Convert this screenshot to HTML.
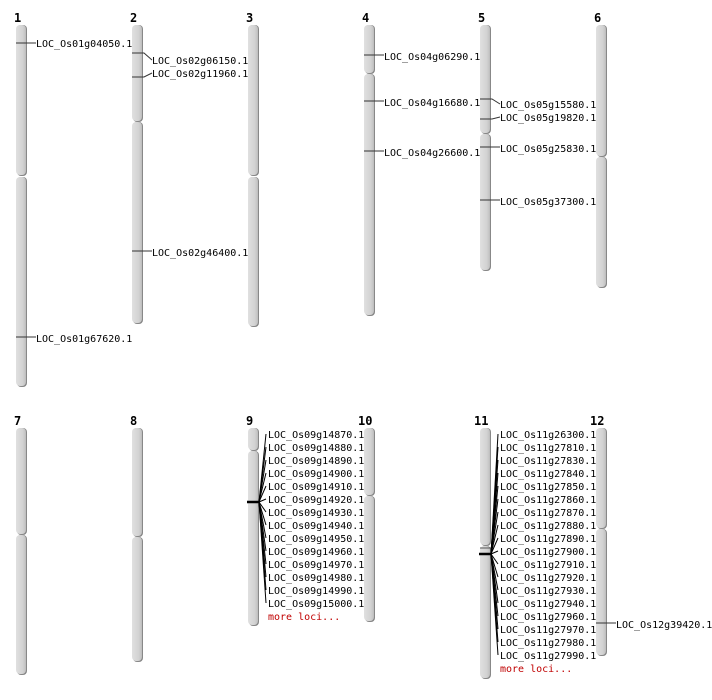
<!DOCTYPE html>
<html><head><meta charset="utf-8"><style>
html,body{margin:0;padding:0;background:#fff}
svg{display:block}
text{font-family:"DejaVu Sans Mono","Liberation Mono",monospace;font-size:10px;fill:#000}
.n{font-weight:bold;font-size:12px}
.m{fill:#c00000}
.c{fill:#d6d6d6}
.s{fill:#888}
.t{stroke:#333;stroke-width:1;fill:none}
.k{stroke:#000;stroke-width:1;fill:none}
</style></head><body>
<svg width="712" height="700" viewBox="0 0 712 700">
<defs>
<linearGradient id="g" x1="0" x2="1" y1="0" y2="0">
<stop offset="0" stop-color="#e0e0e0"/><stop offset="0.7" stop-color="#d2d2d2"/><stop offset="1" stop-color="#bdbdbd"/>
</linearGradient>
</defs>
<g fill="url(#g)" stroke="#999" stroke-width="0.5">
<!-- shadows drawn as dark rect slightly offset -->
</g>
<g id="chrs">
<!-- chr1 -->
<rect x="17" y="25" width="10" height="151" rx="4" class="s"/><rect x="16" y="25" width="10" height="150" rx="4" fill="url(#g)"/>
<rect x="17" y="177" width="10" height="210" rx="4" class="s"/><rect x="16" y="177" width="10" height="209" rx="4" fill="url(#g)"/>
<!-- chr2 -->
<rect x="133" y="25" width="10" height="97" rx="4" class="s"/><rect x="132" y="25" width="10" height="96" rx="4" fill="url(#g)"/>
<rect x="133" y="122" width="10" height="202" rx="4" class="s"/><rect x="132" y="122" width="10" height="201" rx="4" fill="url(#g)"/>
<!-- chr3 -->
<rect x="249" y="25" width="10" height="151" rx="4" class="s"/><rect x="248" y="25" width="10" height="150" rx="4" fill="url(#g)"/>
<rect x="249" y="177" width="10" height="150" rx="4" class="s"/><rect x="248" y="177" width="10" height="149" rx="4" fill="url(#g)"/>
<!-- chr4 -->
<rect x="365" y="25" width="10" height="49" rx="4" class="s"/><rect x="364" y="25" width="10" height="48" rx="4" fill="url(#g)"/>
<rect x="365" y="74" width="10" height="242" rx="4" class="s"/><rect x="364" y="74" width="10" height="241" rx="4" fill="url(#g)"/>
<!-- chr5 -->
<rect x="481" y="25" width="10" height="109" rx="4" class="s"/><rect x="480" y="25" width="10" height="108" rx="4" fill="url(#g)"/>
<rect x="481" y="134" width="10" height="137" rx="4" class="s"/><rect x="480" y="134" width="10" height="136" rx="4" fill="url(#g)"/>
<!-- chr6 -->
<rect x="597" y="25" width="10" height="132" rx="4" class="s"/><rect x="596" y="25" width="10" height="131" rx="4" fill="url(#g)"/>
<rect x="597" y="157" width="10" height="131" rx="4" class="s"/><rect x="596" y="157" width="10" height="130" rx="4" fill="url(#g)"/>
<!-- chr7 -->
<rect x="17" y="428" width="10" height="107" rx="4" class="s"/><rect x="16" y="428" width="10" height="106" rx="4" fill="url(#g)"/>
<rect x="17" y="535" width="10" height="140" rx="4" class="s"/><rect x="16" y="535" width="10" height="139" rx="4" fill="url(#g)"/>
<!-- chr8 -->
<rect x="133" y="428" width="10" height="109" rx="4" class="s"/><rect x="132" y="428" width="10" height="108" rx="4" fill="url(#g)"/>
<rect x="133" y="537" width="10" height="125" rx="4" class="s"/><rect x="132" y="537" width="10" height="124" rx="4" fill="url(#g)"/>
<!-- chr9 -->
<rect x="249" y="428" width="10" height="23" rx="4" class="s"/><rect x="248" y="428" width="10" height="22" rx="4" fill="url(#g)"/>
<rect x="249" y="451" width="10" height="175" rx="4" class="s"/><rect x="248" y="451" width="10" height="174" rx="4" fill="url(#g)"/>
<!-- chr10 -->
<rect x="365" y="428" width="10" height="68" rx="4" class="s"/><rect x="364" y="428" width="10" height="67" rx="4" fill="url(#g)"/>
<rect x="365" y="496" width="10" height="126" rx="4" class="s"/><rect x="364" y="496" width="10" height="125" rx="4" fill="url(#g)"/>
<!-- chr11 -->
<rect x="481" y="428" width="10" height="118" rx="4" class="s"/><rect x="480" y="428" width="10" height="117" rx="4" fill="url(#g)"/>
<rect x="481" y="546" width="10" height="133" rx="4" class="s"/><rect x="480" y="546" width="10" height="132" rx="4" fill="url(#g)"/>
<!-- chr12 -->
<rect x="597" y="428" width="10" height="101" rx="4" class="s"/><rect x="596" y="428" width="10" height="100" rx="4" fill="url(#g)"/>
<rect x="597" y="529" width="10" height="127" rx="4" class="s"/><rect x="596" y="529" width="10" height="126" rx="4" fill="url(#g)"/>
</g>

<g>
<text class="n" x="14" y="22">1</text><text class="n" x="130" y="22">2</text><text class="n" x="246" y="22">3</text>
<text class="n" x="362" y="22">4</text><text class="n" x="478" y="22">5</text><text class="n" x="594" y="22">6</text>
<text class="n" x="14" y="425">7</text><text class="n" x="130" y="425">8</text><text class="n" x="246" y="425">9</text>
<text class="n" x="358" y="425">10</text><text class="n" x="474" y="425">11</text><text class="n" x="590" y="425">12</text>
</g>

<!-- ticks row 1 -->
<g class="t">
<path d="M16 43H36"/>
<path d="M132 53H144L152 60"/><path d="M132 77H144L152 73"/><path d="M132 251H152"/>
<path d="M364 55H384"/><path d="M364 101H384"/><path d="M364 151H384"/>
<path d="M480 99H492L500 104"/><path d="M480 119H492L500 117"/><path d="M480 147H500"/><path d="M480 200H500"/>
<path d="M16 337H36"/>
<path d="M596 623H616"/>
</g>
<g>
<text x="36" y="47">LOC_Os01g04050.1</text>
<text x="36" y="342">LOC_Os01g67620.1</text>
<text x="152" y="64">LOC_Os02g06150.1</text>
<text x="152" y="77">LOC_Os02g11960.1</text>
<text x="152" y="256">LOC_Os02g46400.1</text>
<text x="384" y="60">LOC_Os04g06290.1</text>
<text x="384" y="106">LOC_Os04g16680.1</text>
<text x="384" y="156">LOC_Os04g26600.1</text>
<text x="500" y="108">LOC_Os05g15580.1</text>
<text x="500" y="121">LOC_Os05g19820.1</text>
<text x="500" y="152">LOC_Os05g25830.1</text>
<text x="500" y="205">LOC_Os05g37300.1</text>
<text x="616" y="628">LOC_Os12g39420.1</text>
</g>

<!-- chr9 cluster -->
<path d="M247 502H259" stroke="#000" stroke-width="2.5"/>
<g class="k">
<path d="M259 502L266 434"/><path d="M259 502L266 447"/><path d="M259 502L266 460"/><path d="M259 502L266 473"/>
<path d="M259 502L266 486"/><path d="M259 502L266 499"/><path d="M259 502L266 512"/><path d="M259 502L266 525"/>
<path d="M259 502L266 538"/><path d="M259 502L266 551"/><path d="M259 502L266 564"/><path d="M259 502L266 577"/>
<path d="M259 502L266 590"/><path d="M259 502L266 603"/>
</g>
<g>
<text x="268" y="438">LOC_Os09g14870.1</text>
<text x="268" y="451">LOC_Os09g14880.1</text>
<text x="268" y="464">LOC_Os09g14890.1</text>
<text x="268" y="477">LOC_Os09g14900.1</text>
<text x="268" y="490">LOC_Os09g14910.1</text>
<text x="268" y="503">LOC_Os09g14920.1</text>
<text x="268" y="516">LOC_Os09g14930.1</text>
<text x="268" y="529">LOC_Os09g14940.1</text>
<text x="268" y="542">LOC_Os09g14950.1</text>
<text x="268" y="555">LOC_Os09g14960.1</text>
<text x="268" y="568">LOC_Os09g14970.1</text>
<text x="268" y="581">LOC_Os09g14980.1</text>
<text x="268" y="594">LOC_Os09g14990.1</text>
<text x="268" y="607">LOC_Os09g15000.1</text>
<text class="m" x="268" y="620">more loci...</text>
</g>

<!-- chr11 cluster -->
<path d="M480 548H491" stroke="#555" stroke-width="1"/>
<path d="M479 554H491" stroke="#000" stroke-width="2.5"/>
<g class="k">
<path d="M491 554L498 434"/><path d="M491 554L498 447"/><path d="M491 554L498 460"/><path d="M491 554L498 473"/>
<path d="M491 554L498 486"/><path d="M491 554L498 499"/><path d="M491 554L498 512"/><path d="M491 554L498 525"/>
<path d="M491 554L498 538"/><path d="M491 554L498 551"/><path d="M491 554L498 564"/><path d="M491 554L498 577"/>
<path d="M491 554L498 590"/><path d="M491 554L498 603"/><path d="M491 554L498 616"/><path d="M491 554L498 629"/>
<path d="M491 554L498 642"/><path d="M491 554L498 655"/>
</g>
<g>
<text x="500" y="438">LOC_Os11g26300.1</text>
<text x="500" y="451">LOC_Os11g27810.1</text>
<text x="500" y="464">LOC_Os11g27830.1</text>
<text x="500" y="477">LOC_Os11g27840.1</text>
<text x="500" y="490">LOC_Os11g27850.1</text>
<text x="500" y="503">LOC_Os11g27860.1</text>
<text x="500" y="516">LOC_Os11g27870.1</text>
<text x="500" y="529">LOC_Os11g27880.1</text>
<text x="500" y="542">LOC_Os11g27890.1</text>
<text x="500" y="555">LOC_Os11g27900.1</text>
<text x="500" y="568">LOC_Os11g27910.1</text>
<text x="500" y="581">LOC_Os11g27920.1</text>
<text x="500" y="594">LOC_Os11g27930.1</text>
<text x="500" y="607">LOC_Os11g27940.1</text>
<text x="500" y="620">LOC_Os11g27960.1</text>
<text x="500" y="633">LOC_Os11g27970.1</text>
<text x="500" y="646">LOC_Os11g27980.1</text>
<text x="500" y="659">LOC_Os11g27990.1</text>
<text class="m" x="500" y="672">more loci...</text>
</g>
</svg>
</body></html>
